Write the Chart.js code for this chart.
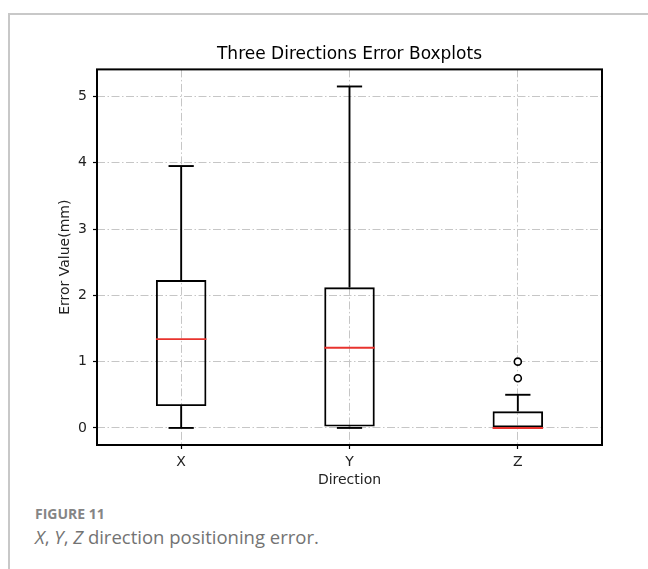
<!DOCTYPE html>
<html>
<head>
<meta charset="utf-8">
<script src="https://cdn.jsdelivr.net/npm/chart.js@4"></script>
<style>
  body { margin: 0; background: #fff; width: 648px; height: 569px; overflow: hidden; position: relative; }
  #frame { position: absolute; left: 8px; top: 13px; width: 660px; height: 600px;
           border-top: 2px solid #c8c8c8; border-left: 2px solid #c8c8c8; }
  #wrap { position: absolute; left: 9px; top: 14px; width: 639px; height: 482px; }
  #figLabel { position: absolute; left: 35px; top: 504px; font-family: "Open Sans", sans-serif;
              font-weight: 700; font-size: 14px; color: #858585; }
  #caption { position: absolute; left: 35px; top: 524px; font-family: "Open Sans", sans-serif;
             font-size: 18.5px; color: #737373; }
</style>
</head>
<body>
<div id="frame"></div>
<div id="wrap"><canvas id="chart"></canvas></div>
<div id="figLabel">FIGURE 11</div>
<div id="caption"><i>X</i>, <i>Y</i>, <i>Z</i> direction positioning error.</div>
<script>
//Data
const directions = ["X", "Y", "Z"];
const whiskerLow = [0, 0, 0];
const q1 = [0.33, 0.02, 0];
const median = [1.34, 1.21, 0];
const q3 = [2.23, 2.12, 0.25];
const whiskerHigh = [3.95, 5.15, 0.5];
const outlierCat = ["Z", "Z"];
const outlierVal = [0.75, 1.0];
const yTicks = [0, 1, 2, 3, 4, 5];

const boxWidth = 0.3; //fraction of one category
const lineColor = "#000";

//Function draws whiskers, caps, medians and the frame with the chart scales
const boxParts = {
    id: "boxParts",
    afterDatasetsDraw(chart) {
        const { ctx, chartArea, scales } = chart;
        const x = scales.x;
        const y = scales.y;
        const step = x.getPixelForValue(1) - x.getPixelForValue(0);
        const capHalf = (step * boxWidth) / 4;
        const boxHalf = (step * boxWidth) / 2;

        const line = (x1, y1, x2, y2) => {
            ctx.beginPath();
            ctx.moveTo(x1, y1);
            ctx.lineTo(x2, y2);
            ctx.stroke();
        };

        ctx.save();
        ctx.lineWidth = 1.9;
        ctx.strokeStyle = lineColor;
        directions.forEach((d, i) => {
            const cx = x.getPixelForValue(i);
            //whiskers
            line(cx, y.getPixelForValue(q3[i]), cx, y.getPixelForValue(whiskerHigh[i]));
            line(cx, y.getPixelForValue(q1[i]), cx, y.getPixelForValue(whiskerLow[i]));
            //caps
            const yh = y.getPixelForValue(whiskerHigh[i]);
            const yl = y.getPixelForValue(whiskerLow[i]);
            line(cx - capHalf, yh, cx + capHalf, yh);
            line(cx - capHalf, yl, cx + capHalf, yl);
        });
        //medians
        ctx.strokeStyle = "#e8332e";
        directions.forEach((d, i) => {
            const cx = x.getPixelForValue(i);
            const ym = y.getPixelForValue(median[i]);
            line(cx - boxHalf, ym, cx + boxHalf, ym);
        });
        //frame
        ctx.strokeStyle = "#000";
        ctx.lineWidth = 2;
        ctx.strokeRect(chartArea.left, chartArea.top,
            chartArea.right - chartArea.left, chartArea.bottom - chartArea.top);
        ctx.restore();
    },
};

const gridOpts = {
    color: "#c6c6c6",
    lineWidth: 1,
    offset: false,
    drawTicks: true,
    tickLength: 4,
    tickColor: "#000",
    tickWidth: 1.2,
    tickBorderDash: [],
};
const borderOpts = { display: false, dash: [8, 2.5, 1.5, 2.5] };
const tickFont = { family: "DejaVu Sans", size: 14 };

const chart = new Chart(document.getElementById("chart"), {
    type: "bar",
    data: {
        labels: directions,
        datasets: [
            {
                data: q1.map((v, i) => [v, q3[i]]),
                backgroundColor: "rgba(0,0,0,0)",
                borderColor: lineColor,
                borderWidth: 1.9,
                borderSkipped: false,
                barPercentage: boxWidth,
                categoryPercentage: 1,
                order: 2,
            },
            {
                type: "line",
                data: outlierCat.map((c, i) => ({ x: c, y: outlierVal[i] })),
                showLine: false,
                pointStyle: "circle",
                pointRadius: 3.5,
                pointBorderWidth: 1.6,
                pointBackgroundColor: "#fff",
                pointBorderColor: "#000",
                order: 1,
            },
        ],
    },
    options: {
        responsive: true,
        maintainAspectRatio: false,
        animation: false,
        layout: { padding: { left: 0, right: 46, top: 0, bottom: 0 } },
        plugins: {
            legend: { display: false },
            tooltip: { enabled: false },
            title: {
                display: true,
                fullSize: false,
                text: "Three Directions Error Boxplots",
                color: "#000",
                font: { family: "DejaVu Sans", size: 17, weight: "normal" },
                padding: { top: 30, bottom: 5 },
            },
        },
        scales: {
            x: {
                offset: true,
                grid: gridOpts,
                border: borderOpts,
                ticks: { color: "#222", font: tickFont, padding: 5 },
                title: {
                    display: true,
                    text: "Direction",
                    color: "#222",
                    font: tickFont,
                    padding: { top: 0, bottom: 7 },
                },
                afterFit: (s) => { s.height = 51; },
            },
            y: {
                min: -0.2575,
                max: 5.4075,
                grid: gridOpts,
                border: borderOpts,
                ticks: { color: "#222", font: tickFont, padding: 6 },
                afterBuildTicks: (s) => { s.ticks = yTicks.map((v) => ({ value: v })); },
                title: {
                    display: true,
                    text: "Error Value(mm)",
                    color: "#222",
                    font: tickFont,
                    padding: { top: 48, bottom: 0 },
                },
                afterFit: (s) => { s.width = 88; },
            },
        },
    },
    plugins: [boxParts],
});
</script>
</body>
</html>
